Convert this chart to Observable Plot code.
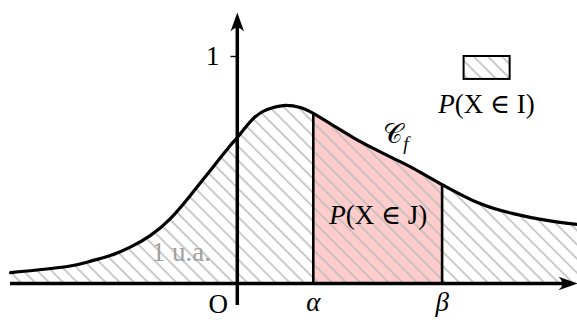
<!DOCTYPE html>
<html><head><meta charset="utf-8">
<script src="https://cdn.jsdelivr.net/npm/d3@7"></script>
<script src="https://cdn.jsdelivr.net/npm/@observablehq/plot@0.6"></script>
<style>body{margin:0;background:#fff} svg{display:block}</style>
</head><body><div id="chart"></div>
<script>
// density curve (x in units, y in units; 1 unit = tick "1")
const curveX = [-1.0, -0.749, -0.648, -0.560, -0.472, -0.384, -0.295, -0.207, -0.119, -0.031, 0, 0.071, 0.132, 0.203, 0.278, 0.335, 0.423, 0.511, 0.600, 0.688, 0.776, 0.903, 1.070, 1.216, 1.366, 1.5];
const curveY = [0.048, 0.075, 0.098, 0.123, 0.160, 0.211, 0.286, 0.388, 0.498, 0.608, 0.643, 0.727, 0.767, 0.784, 0.775, 0.749, 0.696, 0.643, 0.595, 0.551, 0.507, 0.436, 0.352, 0.308, 0.278, 0.260];
const alpha = 0.335, beta = 0.903;
const yTicks = [1];
const boundLabels = ["α", "β"];
const areaLabel = "1 u.a.";
const curveLabel = "𝒞f";
const probJ = "P(X ∈ J)";
const probI = "P(X ∈ I)";
const originLabel = "O";

const pts = curveX.map((x, i) => ({x, y: curveY[i]}));
const ptsJ = pts.filter(d => d.x >= alpha && d.x <= beta);
const fAt = v => curveY[curveX.indexOf(v)];

const FONT = "'Liberation Serif', 'DejaVu Serif', serif";
const FS = 27;
const CURVE = "natural";
const stealth = {draw(ctx) {
  const L = 19, W = 6.8;
  ctx.moveTo(0, 0);
  ctx.lineTo(-L, -W);
  ctx.quadraticCurveTo(-0.6 * L, 0, -L, W);
  ctx.closePath();
}};

const chart = Plot.plot({
  width: 577, height: 320,
  x: {domain: [-1, 1.5], range: [10, 577], axis: null},
  y: {domain: [0, 1], range: [283, 56], axis: null},
  style: {fontFamily: FONT, background: "#fff"},
  marks: [
    Plot.areaY(ptsJ, {x: "x", y: "y", fill: "#ffcccc", curve: CURVE}),
    Plot.areaY(pts, {x: "x", y: "y", fill: "url(#hatch)", curve: CURVE}),
    Plot.line(pts, {x: "x", y: "y", stroke: "black", strokeWidth: 3.2, curve: CURVE}),
    Plot.ruleX([alpha, beta], {y1: () => 0, y2: d => fAt(d), stroke: "black", strokeWidth: 2.6}),
    Plot.ruleY([0], {x1: () => -1.0, x2: () => 1.47, stroke: "black", strokeWidth: 3.5}),
    Plot.ruleX([0], {y1: () => -0.097, y2: () => 1.16, stroke: "black", strokeWidth: 3.5}),
    Plot.dot([0], {x: () => 1.5, y: () => 0, symbol: stealth, fill: "black", stroke: "none", r: 1}),
    Plot.dot([0], {x: () => 0, y: () => 1.194, symbol: stealth, fill: "black", stroke: "none", r: 1, rotate: -90}),
    Plot.ruleY(yTicks, {x1: () => -0.028, x2: () => 0, stroke: "black", strokeWidth: 1.4}),
    Plot.text(yTicks, {x: () => -0.108, y: d => d, text: d => String(d), fontSize: FS, fill: "black"}),
    Plot.text([originLabel], {x: () => -0.084, y: () => -0.09, text: d => d, fontSize: FS, fill: "black"}),
    Plot.text([alpha, beta], {x: d => d, y: () => -0.081, text: (d, i) => boundLabels[i], fontSize: FS, fontStyle: "italic", fill: "black"}),
    Plot.text([areaLabel], {x: () => -0.247, y: () => 0.139, text: d => d, fontSize: FS, fill: "#a0a0a0"}),
    Plot.text([curveLabel], {x: () => 0.643, y: () => 0.655, text: d => d, fontSize: FS, textAnchor: "start", fill: "black"}),
    Plot.text([probJ], {x: () => 0.621, y: () => 0.298, text: d => d, fontSize: FS, fill: "black"}),
    Plot.rect([0], {x1: () => 1.0, x2: () => 1.203, y1: () => 0.899, y2: () => 1.0, fill: "url(#hatch)", stroke: "black", strokeWidth: 2}),
    Plot.text([probI], {x: () => 1.099, y: () => 0.787, text: d => d, fontSize: FS, fill: "black"})
  ]
});

const NS = "http://www.w3.org/2000/svg";
const defs = document.createElementNS(NS, "defs");
const pat = document.createElementNS(NS, "pattern");
pat.setAttribute("id", "hatch");
pat.setAttribute("patternUnits", "userSpaceOnUse");
pat.setAttribute("width", "10");
pat.setAttribute("height", "10");
pat.setAttribute("patternTransform", "rotate(-45)");
const ln = document.createElementNS(NS, "line");
ln.setAttribute("x1", "5"); ln.setAttribute("x2", "5");
ln.setAttribute("y1", "-1"); ln.setAttribute("y2", "11");
ln.setAttribute("stroke", "#bdbdbd");
ln.setAttribute("stroke-width", "1.6");
pat.appendChild(ln);
defs.appendChild(pat);
chart.insertBefore(defs, chart.firstChild);

// typographic touches: italic P, subscript f
chart.querySelectorAll("text").forEach(t => {
  const s = t.textContent;
  if (s.startsWith("P(")) {
    t.textContent = "";
    const p = document.createElementNS(NS, "tspan");
    p.setAttribute("font-style", "italic");
    p.textContent = "P";
    t.appendChild(p);
    t.appendChild(document.createTextNode(s.slice(1)));
  } else if (s === curveLabel) {
    t.textContent = "";
    const c = document.createElementNS(NS, "tspan");
    c.textContent = "𝒞";
    const f = document.createElementNS(NS, "tspan");
    f.setAttribute("font-style", "italic");
    f.setAttribute("font-size", "19");
    f.setAttribute("dy", "7");
    f.textContent = "f";
    t.appendChild(c); t.appendChild(f);
  }
});
document.getElementById("chart").appendChild(chart);
</script>
</body></html>
